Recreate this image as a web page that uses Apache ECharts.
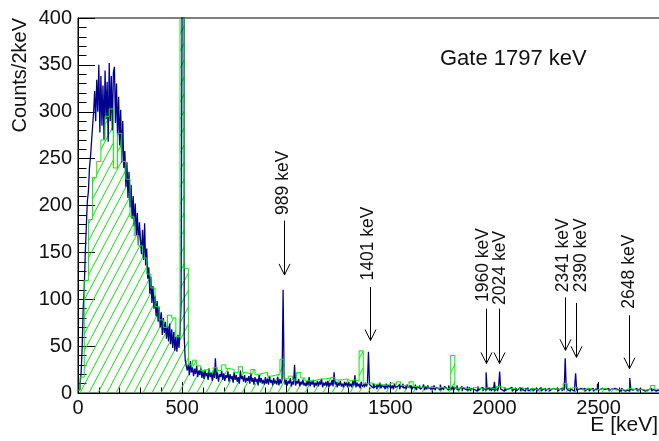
<!DOCTYPE html>
<html>
<head>
<meta charset="utf-8">
<script src="https://cdn.jsdelivr.net/npm/echarts@6/dist/echarts.min.js"></script>
<style>
  html, body { margin: 0; padding: 0; background: #fff; }
  #chart { width: 659px; height: 441px; }
</style>
</head>
<body>
<div id="chart"></div>
<script>
// Gated gamma spectrum (coincidence with the 1797 keV line).
// Fine spectrum: one value every 5 keV, counts per 2 keV, starting at 0 keV.
const BLUE_STEP = 5;
const blueCounts = [
  // 0 - 95
  2, 4, 9, 22, 48, 90, 112, 150, 178, 205, 215, 240, 252, 268, 284, 300, 322, 290, 334, 300,
  // 100 - 195
  350, 278, 338, 285, 328, 270, 344, 292, 332, 268, 352, 290, 338, 280, 342, 348, 288, 330, 274, 316,
  // 200 - 295
  264, 302, 246, 290, 240, 258, 220, 246, 208, 236, 198, 222, 186, 210, 178, 202, 168, 192, 158, 182,
  // 300 - 395
  164, 148, 174, 142, 181, 136, 154, 122, 134, 106, 124, 96, 114, 90, 104, 82, 98, 76, 92, 70,
  // 400 - 495
  86, 62, 80, 64, 76, 58, 72, 55, 74, 52, 68, 48, 65, 45, 60, 44, 62, 48, 64, 95,
  // 500 - 595
  420, 420, 60, 35, 29, 24, 31, 19, 34, 22, 27, 18, 26, 20, 29, 17, 24, 19, 27, 16,
  // 600 - 695
  23, 15, 25, 18, 21, 14, 26, 17, 22, 13, 24, 16, 37, 15, 22, 12, 20, 17, 24, 14,
  // 700 - 795
  21, 13, 19, 16, 23, 12, 20, 15, 18, 11, 22, 14, 19, 12, 17, 10, 24, 15, 18, 12,
  // 800 - 895
  19, 11, 16, 13, 18, 10, 21, 12, 16, 9, 17, 12, 15, 8, 19, 11, 16, 10, 14, 9,
  // 900 - 995
  17, 10, 15, 9, 18, 11, 14, 8, 16, 10, 13, 9, 17, 8, 15, 10, 14, 110, 18, 9,
  // 1000 - 1095
  14, 8, 13, 10, 16, 7, 12, 9, 30, 8, 13, 10, 15, 7, 12, 9, 14, 8, 11, 7,
  // 1100 - 1195
  13, 8, 17, 7, 12, 9, 14, 6, 11, 8, 13, 7, 12, 9, 15, 6, 11, 8, 12, 7,
  // 1200 - 1295
  13, 6, 11, 8, 14, 7, 22, 9, 12, 6, 11, 8, 13, 7, 10, 6, 12, 8, 11, 6,
  // 1300 - 1395
  12, 7, 10, 6, 13, 8, 19, 6, 11, 7, 10, 5, 12, 7, 9, 6, 11, 7, 10, 44,
  // 1400 - 1495
  9, 7, 9, 5, 10, 6, 8, 4, 9, 6, 11, 5, 8, 6, 9, 4, 10, 5, 8, 6,
  // 1500 - 1595
  9, 5, 8, 4, 10, 6, 7, 5, 9, 4, 8, 6, 10, 5, 7, 4, 9, 6, 8, 5,
  // 1600 - 1695
  8, 4, 7, 5, 9, 3, 7, 5, 8, 4, 6, 5, 9, 3, 7, 4, 8, 5, 6, 3,
  // 1700 - 1795
  7, 4, 8, 3, 6, 5, 7, 3, 9, 4, 6, 3, 7, 5, 6, 3, 8, 4, 6, 3,
  // 1800 - 1895
  7, 3, 6, 4, 8, 3, 5, 4, 7, 2, 6, 4, 5, 3, 7, 3, 6, 2, 5, 4,
  // 1900 - 1995
  6, 3, 5, 2, 7, 3, 5, 4, 6, 2, 5, 3, 22, 4, 6, 3, 5, 2, 6, 3,
  // 2000 - 2095
  12, 3, 5, 2, 6, 23, 4, 3, 5, 2, 6, 3, 4, 2, 5, 3, 6, 2, 4, 3,
  // 2100 - 2195
  5, 2, 4, 3, 6, 2, 5, 3, 4, 2, 5, 3, 6, 2, 4, 3, 5, 2, 4, 3,
  // 2200 - 2295
  5, 2, 4, 3, 6, 2, 4, 3, 5, 2, 4, 3, 5, 2, 4, 2, 5, 3, 4, 2,
  // 2300 - 2395
  5, 2, 4, 3, 5, 2, 6, 3, 37, 5, 3, 4, 2, 5, 3, 4, 2, 5, 21, 3,
  // 2400 - 2495
  4, 2, 5, 3, 4, 2, 5, 2, 4, 3, 5, 2, 4, 3, 5, 2, 4, 3, 4, 10,
  // 2500 - 2595
  3, 4, 2, 5, 3, 4, 2, 4, 3, 5, 2, 4, 3, 4, 2, 5, 3, 4, 2, 3,
  // 2600 - 2695
  4, 2, 5, 3, 4, 2, 4, 3, 5, 2, 16, 4, 3, 2, 4, 3, 5, 2, 4, 3,
  // 2700 - 2795
  4, 2, 3, 5, 2, 4, 3, 2, 4, 3, 5, 2, 4, 3, 2, 4, 3, 5, 2, 3
];

// Coarse spectrum: 20 keV bins, first bin edge at -10 keV.
const GREEN_START = -10;
const GREEN_STEP = 20;
const greenCounts = [
  3, 17, 120, 185, 230, 247, 270, 295, 303, 240,          //   0 - 180
  277, 247, 228, 188, 168, 157, 144, 127, 112, 92,        // 200 - 380
  78, 70, 83, 80, 60, 700, 133, 30, 35, 29,               // 400 - 580
  24, 26, 22, 27, 24, 30, 26, 25, 22, 28,                 // 600 - 780
  22, 20, 25, 20, 21, 22, 18, 19, 20, 36,                 // 800 - 980
  15, 18, 14, 22, 16, 13, 13, 14, 15, 15,                 // 1000 - 1180
  16, 17, 14, 14, 15, 13, 14, 13, 45, 10,                 // 1200 - 1380
  11, 9, 10, 8, 9, 11, 9, 12, 8, 7,                       // 1400 - 1580
  12, 7, 6, 7, 6, 6, 5, 6, 5, 5,                          // 1600 - 1780
  40, 5, 6, 5, 4, 6, 5, 4, 6, 5,                          // 1800 - 1980
  4, 7, 5, 4, 5, 4, 6, 4, 4, 5,                           // 2000 - 2180
  3, 5, 4, 4, 5, 4, 4, 10, 5, 6,                          // 2200 - 2380
  4, 3, 5, 4, 3, 4, 5, 3, 4, 3,                           // 2400 - 2580
  4, 3, 5, 4, 3, 4, 3, 4, 8, 4,                           // 2600 - 2780
  4                                                       // 2800
];

// Identified transitions: arrow tail / tip heights and label anchors (data units).
const peakEnergies = [989, 1401, 1960, 2024, 2341, 2390, 2648];
const peakLabels   = ['989 keV', '1401 keV', '1960 keV', '2024 keV', '2341 keV', '2390 keV', '2648 keV'];
const arrowTail    = [184, 113, 90, 90, 102, 96, 83];
const arrowTip     = [126, 56, 31.5, 31.5, 45.5, 38, 26];
const labelEnergy  = [985, 1395, 1946, 2027, 2331, 2417, 2648];
const labelCount   = [190, 120, 97, 94, 107.5, 107.5, 90];

const xTickLabels = ['0', '500', '1000', '1500', '2000', '2500'];
const yTickLabels = ['0', '50', '100', '150', '200', '250', '300', '350', '400'];

const FONT = '"Liberation Sans", Arial, Helvetica, sans-serif';
const BLUE = '#000090';
const GREEN = '#00ee00';

function histPoints(start, step, counts) {
  const pts = counts.map((c, i) => [start + i * step, c]);
  pts.push([start + counts.length * step, counts[counts.length - 1]]);
  return pts;
}

function hatchTile() {
  const w = 9, h = 17;
  const c = document.createElement('canvas');
  c.width = w; c.height = h;
  const g = c.getContext('2d');
  g.strokeStyle = GREEN;
  g.lineWidth = 1;
  g.beginPath();
  for (const dx of [-w, 0, w]) { g.moveTo(dx, h); g.lineTo(dx + w, 0); }
  g.stroke();
  return c;
}

const chart = echarts.init(document.getElementById('chart'), null, { renderer: 'canvas' });

const greenPts = histPoints(GREEN_START, GREEN_STEP, greenCounts);
const bluePts = histPoints(0, BLUE_STEP, blueCounts);

chart.setOption({
  animation: false,
  backgroundColor: '#fff',
  grid: {
    left: 78, top: 18, width: 583, height: 375,
    show: true, borderColor: '#000', borderWidth: 1,
    outerBoundsMode: 'none', containLabel: false
  },
  xAxis: {
    type: 'value', min: 0, max: 2800, interval: 500,
    axisLine: { show: true, lineStyle: { color: '#000', width: 1 } },
    axisTick: { show: true, inside: true, length: 11, lineStyle: { color: '#000' } },
    minorTick: { show: true, splitNumber: 5, length: 5.5, lineStyle: { color: '#000' } },
    splitLine: { show: false },
    axisLabel: {
      margin: 5, fontSize: 20, fontFamily: FONT, color: '#111',
      formatter: v => xTickLabels.includes(String(v)) ? String(v) : ''
    }
  },
  yAxis: {
    type: 'value', min: 0, max: 400, interval: 50,
    axisLine: { show: true, lineStyle: { color: '#000', width: 1 } },
    axisTick: { show: true, inside: true, length: 17, lineStyle: { color: '#000' } },
    minorTick: { show: true, splitNumber: 5, length: 8.5, lineStyle: { color: '#000' } },
    splitLine: { show: false },
    axisLabel: {
      margin: 6, fontSize: 20, fontFamily: FONT, color: '#111',
      formatter: v => yTickLabels.includes(String(v)) ? String(v) : ''
    }
  },
  series: [
    {
      name: 'coarse-fill', type: 'line', step: 'end', data: greenPts,
      showSymbol: false, silent: true, z: 2,
      lineStyle: { width: 0, opacity: 0 },
      areaStyle: { color: { image: hatchTile(), repeat: 'repeat' }, opacity: 1 }
    },
    {
      name: 'fine', type: 'line', step: 'end', data: bluePts,
      showSymbol: false, silent: true, z: 3, sampling: null,
      lineStyle: { color: BLUE, width: 1.3 }
    },
    {
      name: 'coarse', type: 'line', step: 'end', data: greenPts,
      showSymbol: false, silent: true, z: 4,
      lineStyle: { color: GREEN, width: 1 }
    },
    {
      name: 'peaks', type: 'custom', z: 6, clip: false, silent: true,
      data: peakEnergies.map((e, i) => [e, arrowTail[i], arrowTip[i], labelEnergy[i], labelCount[i], i]),
      encode: { x: [0, 3], y: [1, 2, 4] },
      renderItem(params, api) {
        const e = api.value(0);
        const tail = api.coord([e, api.value(1)]);
        const tip = api.coord([e, api.value(2)]);
        const lab = api.coord([api.value(3), api.value(4)]);
        const idx = api.value(5);
        const x = Math.round(tail[0]) + 0.5;
        return {
          type: 'group',
          children: [
            { type: 'line', shape: { x1: x, y1: tail[1], x2: x, y2: tip[1] },
              style: { stroke: '#000', lineWidth: 1 } },
            { type: 'polyline', shape: { points: [[x - 5.5, tip[1] - 11], [x, tip[1]], [x + 5.5, tip[1] - 11]] },
              style: { stroke: '#000', lineWidth: 1, fill: null } },
            { type: 'text', x: lab[0], y: lab[1], rotation: Math.PI / 2,
              style: { text: peakLabels[idx], font: '17.5px ' + FONT, fill: '#111',
                       textAlign: 'left', textVerticalAlign: 'middle' } }
          ]
        };
      }
    }
  ],
  graphic: [
    { type: 'text', left: 440, top: 48,
      style: { text: 'Gate 1797 keV', font: '22px ' + FONT, fill: '#111' } },
    { type: 'text', x: 20, y: 18, rotation: Math.PI / 2,
      style: { text: 'Counts/2keV', font: '20px ' + FONT, fill: '#111',
               textAlign: 'right', textVerticalAlign: 'middle' } },
    { type: 'text', x: 658, y: 425,
      style: { text: 'E [keV]', font: '21px ' + FONT, fill: '#111',
               textAlign: 'right', textVerticalAlign: 'middle' } }
  ]
});
</script>
</body>
</html>
